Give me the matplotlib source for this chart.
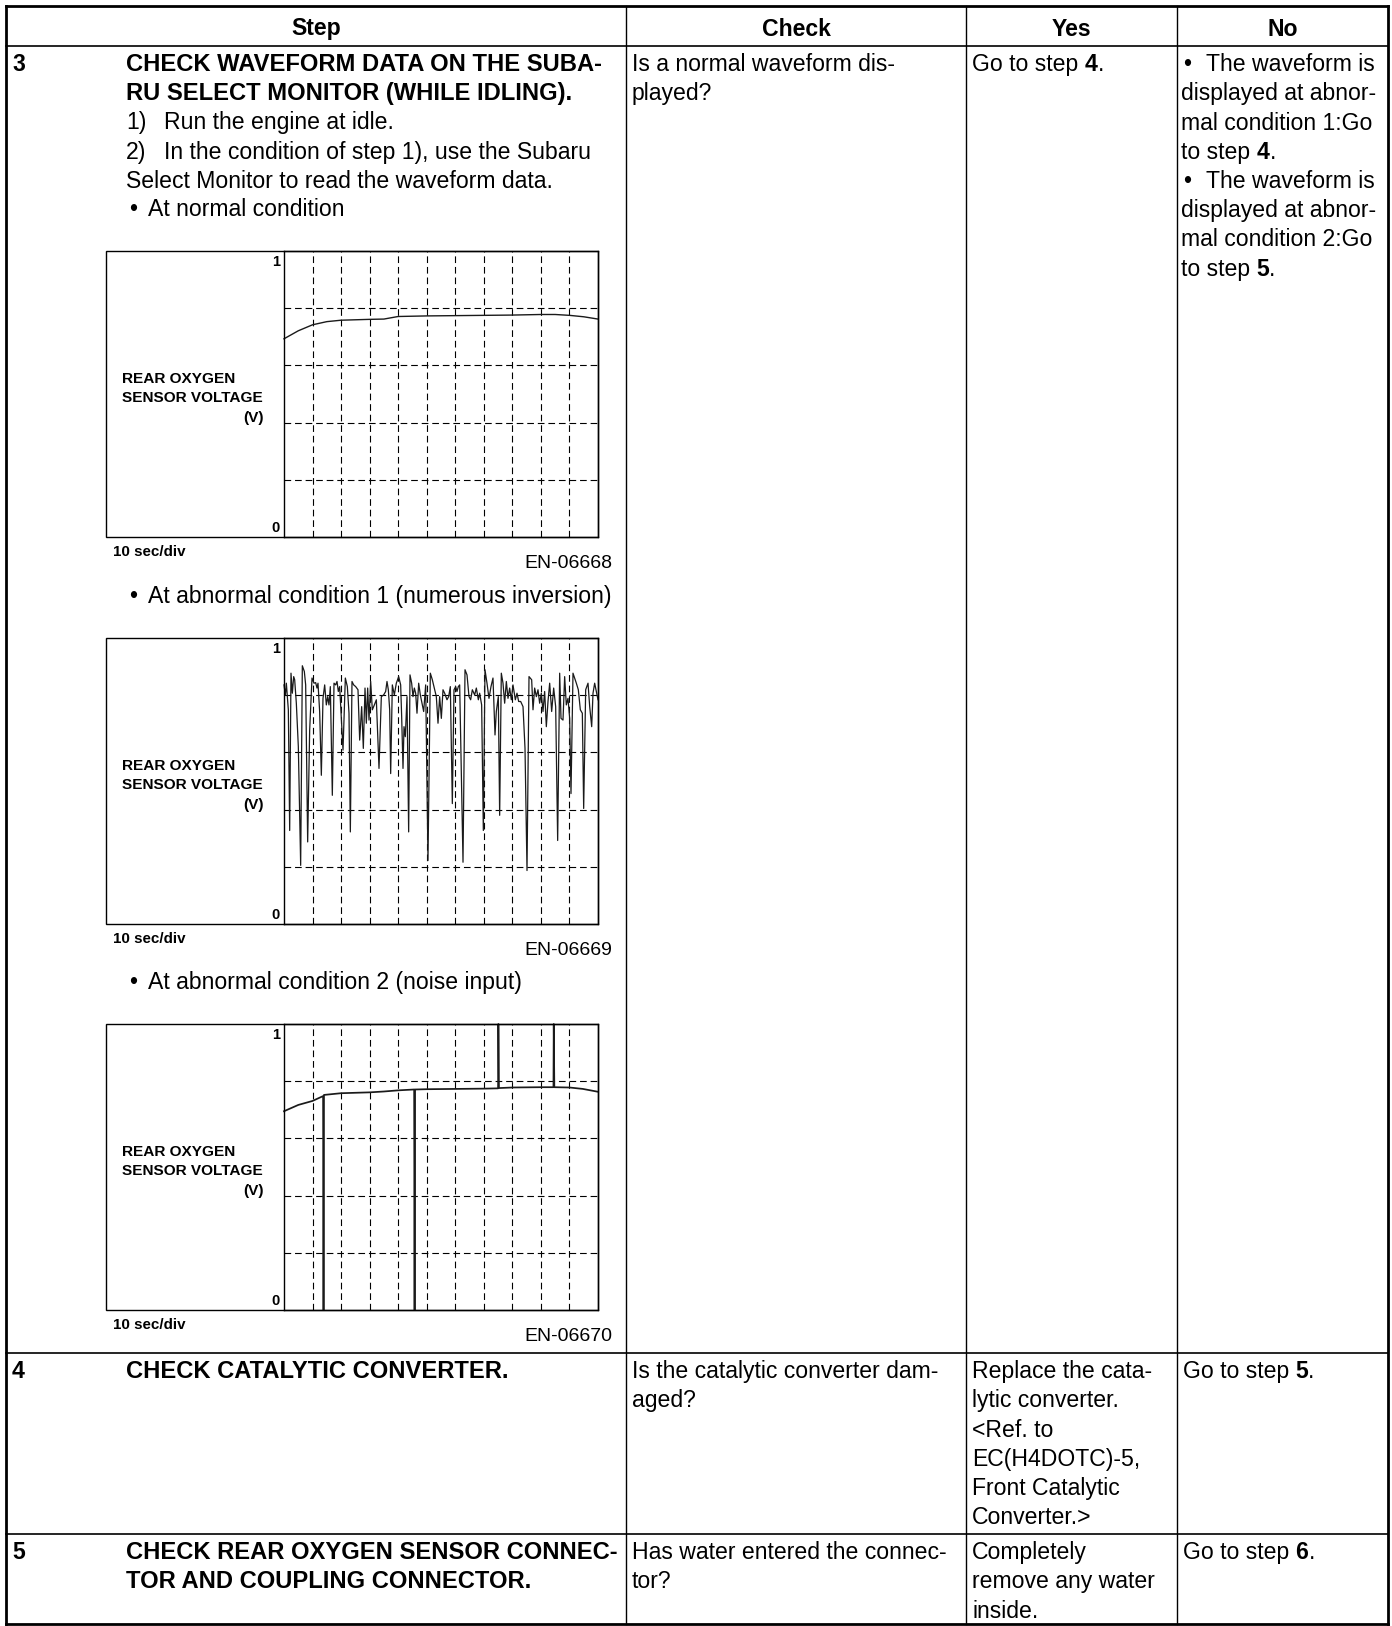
import matplotlib
matplotlib.use("Agg")
from matplotlib import pyplot as plt
from matplotlib.patches import Rectangle

plt.rcParams['font.family'] = ['Liberation Sans', 'DejaVu Sans']

# waveform at normal condition (time in sec, voltage in V)
normal_t = [0, 5, 10, 15, 20, 30, 35, 40, 50, 60, 70, 80, 90, 95, 100, 105, 110]
normal_v = [0.693, 0.721, 0.742, 0.753, 0.758, 0.761, 0.762, 0.771, 0.773, 0.774,
            0.775, 0.776, 0.778, 0.778, 0.775, 0.770, 0.762]

# abnormal condition 1 (numerous inversion)
inv_t = [0.0, 0.47, 0.82, 1.52, 1.99, 2.45, 2.92, 3.39, 3.74, 4.32, 5.02, 5.84, 6.42, 7.12,
         7.59, 8.29, 8.99, 9.81, 10.51, 11.09, 11.56, 11.91, 12.49, 13.08, 13.66, 14.25,
         14.83, 15.30, 15.76, 16.23, 16.93, 17.52, 18.10, 18.57, 19.03, 19.50, 20.67, 21.49,
         22.19, 22.77, 23.24, 23.82, 24.41, 25.11, 25.92, 26.51, 27.21, 27.79, 28.38, 28.84,
         29.31, 29.78, 30.36, 30.94, 31.65, 32.35, 33.28, 34.10, 34.91, 35.61, 36.08, 36.55,
         37.02, 37.37, 37.95, 38.65, 39.35, 40.17, 40.87, 41.22, 41.69, 42.04, 42.50, 43.09,
         43.67, 44.14, 44.72, 45.19, 45.66, 46.12, 46.59, 47.18, 47.76, 48.23, 48.93, 49.63,
         50.44, 51.26, 51.96, 52.66, 53.36, 53.95, 54.53, 55.12, 55.70, 56.28, 57.10, 57.68,
         58.27, 58.97, 59.55, 60.14, 60.60, 61.07, 61.54, 62.71, 63.41, 64.11, 64.81, 65.39,
         65.98, 66.79, 67.38, 68.08, 68.54, 69.24, 69.83, 70.41, 71.11, 71.81, 72.51, 73.21,
         73.92, 74.38, 75.08, 75.55, 76.13, 76.72, 77.30, 77.89, 78.47, 79.05, 79.64, 80.22,
         81.04, 81.62, 82.21, 82.91, 83.73, 84.43, 85.13, 85.83, 86.76, 87.23, 87.81, 88.40,
         88.98, 89.56, 90.15, 90.73, 91.31, 91.90, 92.48, 93.07, 93.77, 94.47, 95.17, 95.87,
         96.57, 97.04, 97.74, 98.32, 98.90, 99.49, 100.07, 100.54, 101.24, 101.82, 102.41,
         103.11, 103.81, 104.51, 104.98, 105.68, 106.50, 107.09, 107.79, 108.25, 108.83,
         109.42, 110.0]
inv_v = [0.836, 0.801, 0.842, 0.749, 0.327, 0.877, 0.807, 0.865, 0.854, 0.772, 0.620, 0.205,
         0.903, 0.883, 0.836, 0.287, 0.678, 0.860, 0.842, 0.844, 0.825, 0.842, 0.743, 0.520,
         0.789, 0.836, 0.766, 0.795, 0.766, 0.830, 0.450, 0.842, 0.836, 0.848, 0.813, 0.830,
         0.608, 0.860, 0.830, 0.737, 0.322, 0.848, 0.836, 0.830, 0.819, 0.643, 0.760, 0.614,
         0.825, 0.702, 0.825, 0.713, 0.848, 0.749, 0.766, 0.784, 0.544, 0.795, 0.801, 0.813,
         0.848, 0.819, 0.749, 0.526, 0.836, 0.801, 0.842, 0.865, 0.836, 0.725, 0.544, 0.690,
         0.655, 0.795, 0.322, 0.871, 0.842, 0.795, 0.825, 0.807, 0.737, 0.842, 0.801, 0.778,
         0.743, 0.836, 0.222, 0.877, 0.854, 0.825, 0.795, 0.702, 0.795, 0.719, 0.819, 0.807,
         0.784, 0.795, 0.830, 0.421, 0.819, 0.830, 0.813, 0.830, 0.836, 0.216, 0.889, 0.871,
         0.795, 0.784, 0.819, 0.801, 0.825, 0.784, 0.807, 0.766, 0.327, 0.889, 0.842, 0.789,
         0.830, 0.860, 0.661, 0.743, 0.795, 0.380, 0.877, 0.842, 0.772, 0.848, 0.789, 0.825,
         0.784, 0.836, 0.784, 0.807, 0.778, 0.778, 0.760, 0.614, 0.187, 0.865, 0.854, 0.749,
         0.825, 0.795, 0.819, 0.772, 0.807, 0.743, 0.813, 0.690, 0.778, 0.842, 0.743, 0.825,
         0.760, 0.292, 0.877, 0.719, 0.713, 0.865, 0.766, 0.789, 0.719, 0.456, 0.877, 0.860,
         0.842, 0.819, 0.749, 0.737, 0.404, 0.819, 0.842, 0.760, 0.690, 0.807, 0.842, 0.813,
         0.784]

# abnormal condition 2 (noise input)
noise_t = [0, 5, 10, 13.7, 13.85, 14.0, 20, 30, 35, 40, 45.6, 45.75, 45.9, 50, 60, 70,
           75.0, 75.1, 75.3, 80, 90, 94.4, 94.5, 94.7, 100, 104.7, 110]
noise_v = [0.695, 0.717, 0.731, 0.748, 0.0, 0.752, 0.758, 0.761, 0.764, 0.768, 0.771, 0.0,
           0.771, 0.772, 0.773, 0.774, 0.775, 1.0, 0.776, 0.778, 0.779, 0.779, 1.0, 0.779,
           0.778, 0.773, 0.763]

waves = [(normal_t, normal_v), (inv_t, inv_v), (noise_t, noise_v)]
fig_codes = ["EN-06668", "EN-06669", "EN-06670"]
bullets = ["At normal condition",
           "At abnormal condition 1 (numerous inversion)",
           "At abnormal condition 2 (noise input)"]

headers = ["Step", "Check", "Yes", "No"]

W, H = 1392, 1626
fig = plt.figure(figsize=(W / 100, H / 100), dpi=100)
bg = fig.add_axes([0, 0, 1, 1])
bg.set_xlim(0, W)
bg.set_ylim(H, 0)
bg.axis('off')
rend = fig.canvas.get_renderer()

FS = 16.6
BFS = 17.1
LH = 29.25

# draws a line made of (text, bold) pieces, one after another
def segs(x, y, parts, size=FS):
  for s, b in parts:
    t = bg.text(x, y, s, fontsize=size, fontweight='bold' if b else 'normal',
                va='baseline', ha='left')
    x += t.get_window_extent(renderer=rend).width

def txt(x, y, s, bold=False, size=FS, **kw):
  bg.text(x, y, s, fontsize=size, fontweight='bold' if bold else 'normal',
          va=kw.pop('va', 'baseline'), ha=kw.pop('ha', 'left'), **kw)

# table grid
cols = [6, 626, 966, 1177, 1388]
rows = [6, 46, 1353, 1534, 1624]
for i, x in enumerate(cols):
  outer = i in (0, len(cols) - 1)
  bg.plot([x, x], [rows[0], rows[-1]], color='black', lw=2.0 if outer else 1.0,
          solid_capstyle='projecting')
for i, y in enumerate(rows):
  outer = i in (0, len(rows) - 1)
  bg.plot([cols[0], cols[-1]], [y, y], color='black', lw=2.0 if outer else 1.2,
          solid_capstyle='projecting')

# header row
for i, h in enumerate(headers):
  bg.text((cols[i] + cols[i + 1]) / 2, 29, h, fontsize=FS, fontweight='bold',
          ha='center', va='center')

# row 3
b0 = 71
txt(12, b0, "3", bold=True)
txt(126, b0, "CHECK WAVEFORM DATA ON THE SUBA-", bold=True, size=BFS)
txt(126, b0 + LH, "RU SELECT MONITOR (WHILE IDLING).", bold=True, size=BFS)
txt(126, b0 + 2 * LH, "1)")
txt(164, b0 + 2 * LH, "Run the engine at idle.")
txt(126, b0 + 3 * LH, "2)")
txt(164, b0 + 3 * LH, "In the condition of step 1), use the Subaru")
txt(126, b0 + 4 * LH, "Select Monitor to read the waveform data.")

txt(632, b0, "Is a normal waveform dis-")
txt(632, b0 + LH, "played?")
segs(972, b0, [("Go to step ", False), ("4", True), (".", False)])

txt(1183, b0, "\u2022")
txt(1206, b0, "The waveform is")
txt(1181, b0 + LH, "displayed at abnor-")
txt(1181, b0 + 2 * LH, "mal condition 1:Go")
segs(1181, b0 + 3 * LH, [("to step ", False), ("4", True), (".", False)])
txt(1183, b0 + 4 * LH, "\u2022")
txt(1206, b0 + 4 * LH, "The waveform is")
txt(1181, b0 + 5 * LH, "displayed at abnor-")
txt(1181, b0 + 6 * LH, "mal condition 2:Go")
segs(1181, b0 + 7 * LH, [("to step ", False), ("5", True), (".", False)])

# the three waveform charts
tops = [251, 638, 1024]
ch = 286
for k, top in enumerate(tops):
  bot = top + ch
  txt(129, top - 35, "\u2022")
  txt(148, top - 35, bullets[k])
  bg.add_patch(Rectangle((106, top), 598 - 106, ch, fill=False, lw=1.0, ec='black'))
  ax = fig.add_axes([284 / W, 1 - bot / H, (598 - 284) / W, ch / H])
  ax.patch.set_alpha(0)
  t, v = waves[k]
  ax.plot(t, v, color='#1a1a1a', lw=[1.0, 0.9, 1.25][k], clip_on=False)
  ax.set_xlim(0, 110)
  ax.set_ylim(0, 1)
  ax.set_xticks(range(10, 110, 10))
  ax.set_yticks([0.2, 0.4, 0.6, 0.8])
  ax.tick_params(length=0, labelbottom=False, labelleft=False)
  ax.grid(True, color='black', lw=0.8, linestyle=(0, (6, 3.5)))
  for s in ax.spines.values():
    s.set_linewidth(1.0)
  txt(280, top + 11, "1", bold=True, size=10.5, ha='right', va='center')
  txt(280, top + 277, "0", bold=True, size=10.5, ha='right', va='center')
  txt(122, top + 128, "REAR OXYGEN", bold=True, size=11.1, va='center')
  txt(122, top + 147, "SENSOR VOLTAGE", bold=True, size=11.1, va='center')
  txt(264, top + 167, "(V)", bold=True, size=11.1, ha='right', va='center')
  txt(113, bot + 15, "10 sec/div", bold=True, size=10.9, va='center')
  txt(612, bot + 26, fig_codes[k], size=14, ha='right', va='center')

# row 4
b4 = 1378
txt(12, b4, "4", bold=True)
txt(126, b4, "CHECK CATALYTIC CONVERTER.", bold=True, size=BFS)
txt(632, b4, "Is the catalytic converter dam-")
txt(632, b4 + LH, "aged?")
yes4 = ["Replace the cata-", "lytic converter.", "<Ref. to", "EC(H4DOTC)-5,",
        "Front Catalytic", "Converter.>"]
for i, s in enumerate(yes4):
  txt(972, b4 + i * LH, s)
segs(1183, b4, [("Go to step ", False), ("5", True), (".", False)])

# row 5
b5 = 1559
txt(12, b5, "5", bold=True)
txt(126, b5, "CHECK REAR OXYGEN SENSOR CONNEC-", bold=True, size=BFS)
txt(126, b5 + LH, "TOR AND COUPLING CONNECTOR.", bold=True, size=BFS)
txt(632, b5, "Has water entered the connec-")
txt(632, b5 + LH, "tor?")
for i, s in enumerate(["Completely", "remove any water", "inside."]):
  txt(972, b5 + i * LH, s)
segs(1183, b5, [("Go to step ", False), ("6", True), (".", False)])

fig.savefig("out.png", dpi=100)
